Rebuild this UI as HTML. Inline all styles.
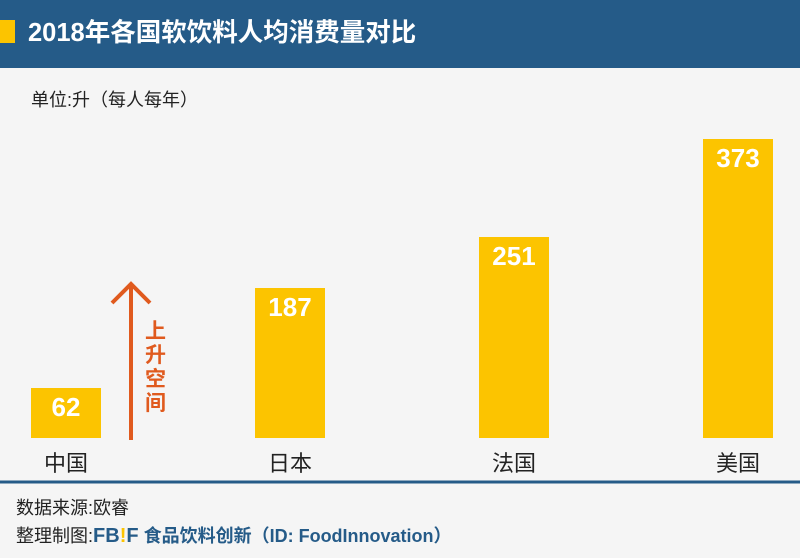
<!DOCTYPE html>
<html><head><meta charset="utf-8"><style>
body{margin:0;width:800px;height:558px;background:#f5f5f5;font-family:"Liberation Sans","Noto Sans CJK SC",sans-serif;position:relative;overflow:hidden}
.a{position:absolute}
.bar{position:absolute;background:#fcc400;width:70px;color:#fff;font-weight:bold;font-size:26px;text-align:center;line-height:38px}
.cat{position:absolute;top:446px;font-size:22px;color:#222;width:100px;text-align:center}
</style></head><body>
<div class="a" style="left:0;top:0;width:800px;height:68px;background:#255b88"></div>
<div class="a" style="left:0;top:20px;width:15px;height:23px;background:#fcc400"></div>
<div class="a" style="left:28px;top:15px;color:#fff;font-size:25.5px;font-weight:bold;line-height:36px">2018年各国软饮料人均消费量对比</div>
<div class="a" style="left:31px;top:86px;font-size:18px;color:#222">单位:升（每人每年）</div>
<div class="bar" style="left:31px;top:388px;height:50px">62</div>
<div class="bar" style="left:255px;top:288px;height:150px">187</div>
<div class="bar" style="left:479px;top:237px;height:201px">251</div>
<div class="bar" style="left:703px;top:139px;height:299px">373</div>
<div class="cat" style="left:16px">中国</div>
<div class="cat" style="left:240px">日本</div>
<div class="cat" style="left:464px">法国</div>
<div class="cat" style="left:688px">美国</div>
<svg class="a" style="left:0;top:0" width="800" height="558">
<path d="M131 440 V284 M112 303 L131 284 L150 303" stroke="#e05a1e" stroke-width="4" fill="none"/>
<line x1="0" y1="482" x2="800" y2="482" stroke="#255b88" stroke-width="3"/>
</svg>
<div class="a" style="left:145px;top:320px;width:22px;font-size:21px;line-height:24px;color:#e05a1e;font-weight:bold">上升空间</div>
<div class="a" style="left:16px;top:494px;font-size:18px;color:#222">数据来源:欧睿</div>
<div class="a" style="left:16px;top:522px;font-size:18px;color:#222;white-space:nowrap">整理制图:<b style="color:#255b88;font-size:20px">FB<span style="color:#fcc400">!</span>F</b><span style="color:#255b88;font-weight:bold"> 食品饮料创新（ID: FoodInnovation）</span></div>
</body></html>
